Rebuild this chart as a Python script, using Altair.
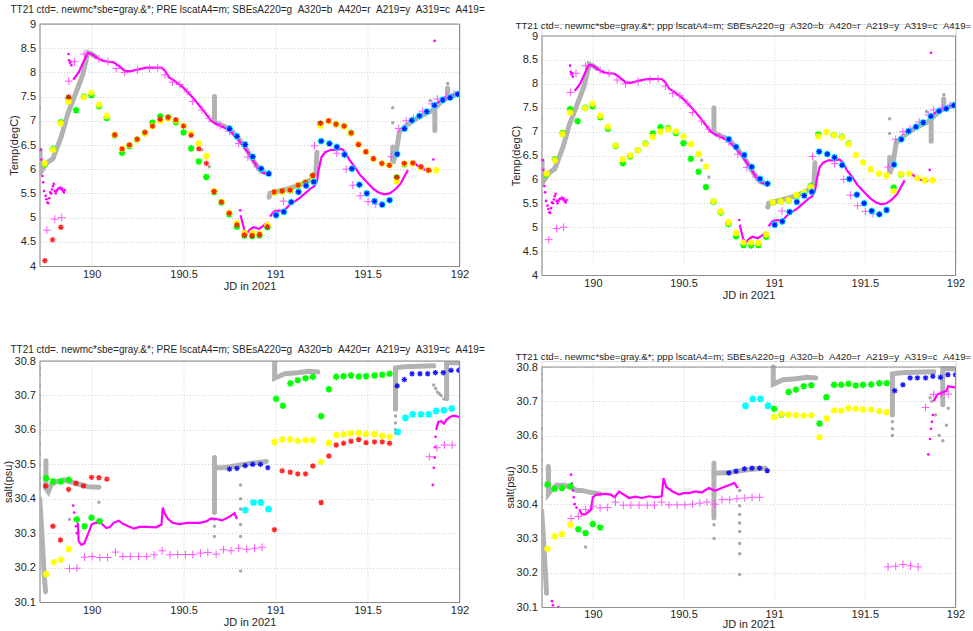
import altair as alt
import pandas as pd

# ---------------- axes / titles ----------------
X_DOMAIN = [189.717, 192]
X_TICKS = [190, 190.5, 191, 191.5, 192]
T_DOMAIN = [4, 9]
T_TICKS = [4, 4.5, 5, 5.5, 6, 6.5, 7, 7.5, 8, 8.5, 9]
S_DOMAIN = [30.1, 30.8]
S_TICKS = [30.1, 30.2, 30.3, 30.4, 30.5, 30.6, 30.7, 30.8]
SP = " \u00a0"
TITLE_PRE = "TT21 ctd=. newmc*sbe=gray.&*; PRE lscatA4=m; SBEsA220=g" + SP + "A320=b" + SP + "A420=r" + SP + "A219=y" + SP + "A319=c" + SP + "A419="
TITLE_PPP = "TT21 ctd=. newmc*sbe=gray.&*; ppp lscatA4=m; SBEsA220=g" + SP + "A320=b" + SP + "A420=r" + SP + "A219=y" + SP + "A319=c" + SP + "A419="
X_LABEL = "JD in 2021"
T_LABEL = "Temp(degC)"
S_LABEL = "salt(psu)"

# ---------------- temperature data (both top panels) ----------------
T_GREEN = [(189.746, 6.10), (189.791, 6.42), (189.833, 6.97), (189.875, 7.47), (189.916, 7.22),
           (189.958, 7.50), (189.999, 7.53), (190.041, 7.30), (190.083, 7.06), (190.126, 6.70),
           (190.166, 6.34), (190.206, 6.48), (190.248, 6.61), (190.29, 6.75), (190.331, 6.96),
           (190.373, 7.09), (190.416, 7.07), (190.458, 6.97), (190.5, 6.76), (190.541, 6.43),
           (190.583, 6.16), (190.624, 5.84), (190.666, 5.53), (190.706, 5.31), (190.748, 5.07),
           (190.79, 4.81), (190.831, 4.63), (190.873, 4.62), (190.913, 4.63), (190.956, 4.80),
           (190.993, 5.52), (191.036, 5.54), (191.079, 5.56), (191.123, 5.66), (191.163, 5.72),
           (191.202, 5.86), (191.244, 6.94), (191.329, 6.93), (191.373, 6.89), (191.411, 6.75),
           (191.659, 5.83), (191.7, 6.10)]
T_YELLOW = [(189.746, 6.12), (189.791, 6.40), (189.833, 6.95), (189.875, 7.40), (189.958, 7.49),
            (189.999, 7.58), (190.041, 7.33), (190.083, 7.10), (190.126, 6.71), (190.166, 6.42),
            (190.206, 6.50), (190.248, 6.61), (190.29, 6.74), (190.331, 6.89), (190.373, 7.00),
            (190.416, 7.05), (190.458, 7.01), (190.5, 6.90), (190.541, 6.74), (190.583, 6.53),
            (190.624, 6.27), (190.666, 5.55), (190.706, 5.33), (190.748, 5.10), (190.79, 4.88),
            (190.831, 4.68), (190.873, 4.68), (190.913, 4.67), (190.956, 4.85), (190.993, 5.52),
            (191.036, 5.54), (191.079, 5.57), (191.123, 5.67), (191.163, 5.73), (191.202, 5.84),
            (191.244, 6.90), (191.288, 6.99), (191.329, 6.93), (191.373, 6.88), (191.411, 6.74),
            (191.451, 6.51), (191.491, 6.36), (191.532, 6.21), (191.578, 6.12), (191.619, 6.08),
            (191.659, 5.75), (191.7, 6.11), (191.746, 6.12), (191.791, 6.03), (191.831, 5.98),
            (191.873, 5.98)]
T_RED = [(189.746, 4.11), (189.788, 4.54), (189.833, 4.80), (189.875, 7.49), (190.126, 6.71),
         (190.166, 6.42), (190.206, 6.50), (190.248, 6.62), (190.29, 6.76), (190.331, 6.89),
         (190.373, 7.03), (190.416, 7.07), (190.458, 7.02), (190.5, 6.89), (190.541, 6.70),
         (190.583, 6.42), (190.624, 6.12), (190.666, 5.54), (190.706, 5.32), (190.748, 5.09),
         (190.79, 4.85), (190.831, 4.64), (190.873, 4.63), (190.913, 4.65), (190.956, 4.81),
         (190.993, 5.53), (191.036, 5.55), (191.079, 5.57), (191.123, 5.67), (191.163, 5.73),
         (191.202, 5.87), (191.244, 6.95), (191.288, 7.00), (191.329, 6.93), (191.373, 6.89),
         (191.411, 6.75), (191.451, 6.51), (191.491, 6.36), (191.532, 6.22), (191.578, 6.12),
         (191.619, 6.08), (191.659, 5.83), (191.7, 6.12), (191.746, 6.13), (191.791, 6.05),
         (191.831, 5.98)]
T_BLUE = [(190.75, 6.84), (190.79, 6.68), (190.835, 6.51), (190.876, 6.26), (190.922, 6.01),
          (190.963, 5.91), (191.003, 5.05), (191.045, 5.12), (191.085, 5.32), (191.125, 5.53),
          (191.166, 5.66), (191.208, 5.74), (191.248, 6.58), (191.293, 6.53), (191.333, 6.46),
          (191.375, 6.30), (191.415, 6.01), (191.456, 5.68), (191.496, 5.50), (191.538, 5.34),
          (191.58, 5.27), (191.62, 5.36), (191.661, 6.31), (191.701, 6.84), (191.741, 7.01),
          (191.782, 7.10), (191.822, 7.19), (191.864, 7.32), (191.909, 7.43), (191.949, 7.48),
          (191.99, 7.55)]
T_MAG_PLUS = [(189.757, 4.74), (189.80, 4.97), (189.838, 5.00), (189.876, 7.82), (189.907, 8.22),
              (189.96, 8.38), (190.04, 8.28), (190.09, 8.22), (190.134, 8.08), (190.18, 8.00),
              (190.25, 8.05), (190.315, 8.08), (190.36, 8.10), (190.4, 7.95), (190.44, 7.80),
              (190.48, 7.75), (190.52, 7.60), (190.55, 7.40), (190.6, 7.22), (190.64, 7.05),
              (190.7, 6.90), (190.75, 6.78), (190.8, 6.53), (190.85, 6.25), (190.9, 6.05),
              (191.0, 5.10), (191.043, 5.34), (191.212, 6.48), (191.333, 6.33), (191.384, 6.00),
              (191.42, 5.67), (191.46, 5.45), (191.503, 5.33), (191.545, 5.28), (191.629, 6.26),
              (191.67, 6.84), (191.71, 7.00), (191.75, 7.05), (191.8, 7.20), (191.85, 7.35),
              (191.88, 7.45), (191.93, 7.50), (191.97, 7.55)]
T_MAG_DOTS = [(189.724, 6.40), (189.727, 6.20), (189.733, 5.86), (189.737, 5.73), (189.742, 5.55),
              (189.75, 5.45), (189.755, 5.38), (189.76, 5.31), (189.765, 5.30), (189.77, 5.40),
              (189.775, 5.52), (189.78, 5.50), (189.785, 5.58), (189.79, 5.65), (189.795, 5.70),
              (189.8, 5.55), (189.805, 5.50), (189.81, 5.55), (189.815, 5.58), (189.82, 5.60),
              (189.83, 5.62), (189.835, 5.58), (189.84, 5.60), (189.845, 5.55), (189.85, 5.52),
              (189.855, 5.57), (189.875, 8.38), (189.878, 8.25), (189.882, 8.20), (189.886, 8.22),
              (189.89, 8.15), (190.808, 5.15), (191.865, 8.65), (191.858, 6.20)]
T_MAG_LINE = [
    [(189.90, 7.85), (189.93, 8.00), (189.96, 8.25), (189.98, 8.40), (190.0, 8.38), (190.03, 8.30),
     (190.06, 8.24), (190.09, 8.22), (190.12, 8.21), (190.15, 8.13), (190.18, 8.03), (190.21, 8.02),
     (190.25, 8.06), (190.30, 8.10), (190.35, 8.10), (190.38, 8.10), (190.40, 8.03), (190.42, 7.90),
     (190.45, 7.83), (190.50, 7.68), (190.55, 7.48), (190.60, 7.25), (190.65, 7.00), (190.67, 6.95),
     (190.70, 6.90), (190.75, 6.80), (190.80, 6.60), (190.85, 6.35), (190.90, 6.05), (190.93, 5.93),
     (190.96, 5.90)],
    [(190.81, 5.05), (190.83, 4.75), (190.845, 4.68), (190.86, 4.75), (190.88, 4.80), (190.91, 4.77),
     (190.93, 4.82), (190.95, 4.88), (190.96, 4.88)],
    [(190.97, 5.02), (190.99, 5.12), (191.02, 5.15), (191.04, 5.12), (191.06, 5.20), (191.08, 5.28),
     (191.10, 5.32), (191.13, 5.40), (191.16, 5.50), (191.19, 5.60), (191.21, 5.65), (191.225, 5.75),
     (191.235, 6.00), (191.25, 6.25), (191.27, 6.35), (191.30, 6.40), (191.33, 6.40), (191.36, 6.42),
     (191.38, 6.35), (191.40, 6.20), (191.43, 6.05), (191.46, 5.88), (191.50, 5.72), (191.53, 5.60),
     (191.56, 5.52), (191.59, 5.48), (191.62, 5.50), (191.65, 5.58), (191.68, 5.70), (191.70, 5.85),
     (191.72, 5.98)],
    [(191.74, 6.10), (191.755, 6.13), (191.77, 6.08), (191.80, 6.00), (191.83, 5.97), (191.85, 5.97)],
    [(191.87, 7.35), (191.90, 7.42), (191.93, 7.47), (191.96, 7.52), (192.0, 7.57)],
]
T_CTD_LINE = [
    [(189.72, 6.40), (189.72, 5.92)],
    [(189.726, 5.95), (189.753, 6.12), (189.79, 6.22), (189.835, 6.67), (189.871, 7.15),
     (189.907, 7.50), (189.952, 7.95), (189.98, 8.41), (190.0, 8.38), (190.02, 8.33)],
    [(190.668, 7.50), (190.668, 7.00)],
    [(190.68, 6.95), (190.75, 6.84), (190.79, 6.67), (190.835, 6.46), (190.876, 6.19),
     (190.92, 5.96), (190.96, 5.90)],
    [(190.965, 5.42), (190.97, 5.50), (191.0, 5.53), (191.07, 5.60), (191.13, 5.67),
     (191.2, 5.80), (191.22, 5.95), (191.225, 6.35)],
    [(191.637, 6.46), (191.637, 6.12), (191.655, 6.33), (191.673, 6.77), (191.71, 6.90),
     (191.78, 7.08), (191.855, 7.22), (191.91, 7.43), (192.0, 7.57)],
    [(191.866, 7.22), (191.866, 6.80)],
    [(191.935, 7.68), (191.935, 7.50)],
]
T_CTD_DOTS = [(189.717, 7.27), (191.637, 7.27), (191.637, 6.96), (191.936, 7.77), (191.84, 7.42),
              (190.6, 6.40), (190.64, 6.05)]

# ---------------- salinity, PRE (bottom-left) ----------------
S3_GREEN = [(189.753, 30.46), (189.79, 30.45), (189.833, 30.45), (189.876, 30.455), (189.92, 30.34),
            (189.962, 30.32), (190.0, 30.345), (190.043, 30.335), (191.003, 30.69), (191.04, 30.67),
            (191.081, 30.735), (191.121, 30.744), (191.163, 30.75), (191.203, 30.754), (191.248, 30.64),
            (191.29, 30.718), (191.33, 30.754), (191.37, 30.756), (191.41, 30.758), (191.452, 30.755),
            (191.492, 30.756), (191.538, 30.758), (191.58, 30.76), (191.62, 30.763)]
S3_RED = [(189.75, 30.437), (189.79, 30.32), (189.831, 30.28), (189.875, 30.427), (189.916, 30.445),
          (189.956, 30.437), (190.0, 30.462), (190.04, 30.461), (190.083, 30.457), (190.994, 30.31),
          (191.036, 30.481), (191.08, 30.477), (191.121, 30.472), (191.163, 30.472), (191.203, 30.495),
          (191.248, 30.389), (191.29, 30.524), (191.33, 30.556), (191.37, 30.561), (191.41, 30.567),
          (191.452, 30.572), (191.492, 30.563), (191.538, 30.565), (191.58, 30.565), (191.62, 30.561)]
S3_YELLOW = [(189.753, 30.181), (189.795, 30.216), (189.835, 30.223), (189.876, 30.254), (190.994, 30.565),
             (191.036, 30.572), (191.08, 30.572), (191.121, 30.568), (191.163, 30.57), (191.203, 30.57),
             (191.248, 30.507), (191.29, 30.562), (191.33, 30.585), (191.37, 30.587), (191.41, 30.59),
             (191.452, 30.591), (191.492, 30.588), (191.538, 30.588), (191.58, 30.583), (191.62, 30.58)]
S3_BLUE = [(190.75, 30.486), (190.79, 30.488), (190.835, 30.496), (190.876, 30.50), (190.918, 30.50),
           (190.958, 30.49), (191.661, 30.728), (191.70, 30.746), (191.742, 30.763), (191.785, 30.763),
           (191.827, 30.763), (191.869, 30.766), (191.912, 30.766), (191.954, 30.773), (191.996, 30.773)]
S3_CYAN = [(190.835, 30.367), (190.88, 30.389), (190.92, 30.389), (190.962, 30.37), (191.665, 30.594),
           (191.706, 30.635), (191.746, 30.645), (191.791, 30.645), (191.833, 30.645), (191.873, 30.655),
           (191.915, 30.657), (191.958, 30.662)]
S3_MAG_PLUS = [(189.88, 30.197), (189.92, 30.198), (189.962, 30.23), (190.003, 30.232), (190.045, 30.229),
               (190.087, 30.229), (190.13, 30.245), (190.17, 30.232), (190.21, 30.232), (190.255, 30.232),
               (190.30, 30.232), (190.34, 30.237), (190.384, 30.249), (190.427, 30.237), (190.468, 30.238),
               (190.51, 30.238), (190.55, 30.238), (190.592, 30.242), (190.632, 30.244), (190.677, 30.239),
               (190.717, 30.252), (190.758, 30.249), (190.80, 30.256), (190.843, 30.253), (190.886, 30.256),
               (190.927, 30.259), (191.836, 30.522), (191.877, 30.548), (191.918, 30.556), (191.96, 30.556)]
S3_MAG_DOTS = [(189.90, 30.38), (189.905, 30.36), (189.91, 30.34), (189.915, 30.32), (189.92, 30.30),
               (191.855, 30.44), (191.86, 30.49), (191.865, 30.52), (191.868, 30.55), (191.87, 30.58)]
S3_MAG_LINE = [
    [(189.925, 30.33), (189.93, 30.276), (189.945, 30.266), (189.96, 30.27), (189.975, 30.29),
     (189.99, 30.31), (190.0, 30.325), (190.02, 30.33), (190.05, 30.33), (190.08, 30.315),
     (190.10, 30.318), (190.12, 30.33), (190.148, 30.336), (190.17, 30.327), (190.20, 30.32),
     (190.23, 30.313), (190.26, 30.318), (190.30, 30.318), (190.35, 30.317), (190.38, 30.325),
     (190.387, 30.374), (190.395, 30.36), (190.413, 30.343), (190.44, 30.33), (190.478, 30.326),
     (190.52, 30.33), (190.55, 30.33), (190.59, 30.33), (190.623, 30.334), (190.65, 30.343),
     (190.677, 30.341), (190.71, 30.337), (190.75, 30.348), (190.777, 30.358), (190.79, 30.341)],
    [(191.873, 30.60), (191.885, 30.623), (191.90, 30.625), (191.915, 30.618), (191.93, 30.63),
     (191.95, 30.638), (191.97, 30.641), (192.0, 30.637)],
]
S3_CTD_LINE = [
    [(189.718, 30.40), (189.73, 30.30), (189.742, 30.18), (189.75, 30.13)],
    [(189.752, 30.51), (189.752, 30.43), (189.765, 30.42), (189.78, 30.44), (189.81, 30.45),
     (189.85, 30.455), (189.88, 30.45), (189.91, 30.445), (189.95, 30.44), (189.98, 30.435),
     (190.04, 30.433)],
    [(190.668, 30.52), (190.668, 30.36)],
    [(190.668, 30.49), (190.72, 30.49), (190.80, 30.497), (190.86, 30.502), (190.95, 30.508)],
    [(190.995, 30.80), (190.995, 30.75), (191.05, 30.763), (191.12, 30.766), (191.18, 30.77),
     (191.23, 30.768)],
    [(191.652, 30.66), (191.652, 30.78), (191.70, 30.783), (191.78, 30.785), (191.86, 30.786)],
    [(191.93, 30.69), (191.93, 30.795), (192.0, 30.795)],
]
S3_CTD_DOTS = [(189.717, 30.78), (189.717, 30.76), (189.717, 30.73), (189.717, 30.70), (189.717, 30.68),
               (189.717, 30.66), (189.717, 30.62), (189.717, 30.59), (189.717, 30.56), (189.717, 30.53),
               (189.717, 30.50), (189.717, 30.46), (189.717, 30.44), (190.668, 30.34), (190.668, 30.32),
               (190.668, 30.29), (190.81, 30.44), (190.81, 30.40), (190.81, 30.37), (190.81, 30.325),
               (190.81, 30.29), (190.81, 30.19), (190.04, 30.39), (189.88, 30.34), (191.652, 30.64),
               (191.652, 30.62), (191.652, 30.60), (191.652, 30.59), (191.86, 30.73), (191.87, 30.72),
               (191.88, 30.71), (191.89, 30.705), (191.90, 30.70), (191.915, 30.69)]

# ---------------- salinity, ppp (bottom-right) ----------------
S4_GREEN = [(189.75, 30.457), (189.79, 30.445), (189.83, 30.447), (189.876, 30.452), (189.92, 30.327),
            (189.96, 30.316), (190.0, 30.342), (190.04, 30.332), (191.0, 30.678), (191.04, 30.661),
            (191.08, 30.727), (191.12, 30.734), (191.163, 30.744), (191.205, 30.747), (191.25, 30.635),
            (191.288, 30.712), (191.33, 30.748), (191.37, 30.748), (191.41, 30.751), (191.45, 30.746),
            (191.49, 30.748), (191.535, 30.749), (191.58, 30.753), (191.62, 30.753)]
S4_YELLOW = [(189.75, 30.27), (189.79, 30.306), (189.83, 30.313), (189.876, 30.34), (191.0, 30.654),
             (191.04, 30.663), (191.08, 30.661), (191.12, 30.659), (191.163, 30.658), (191.205, 30.659),
             (191.25, 30.595), (191.29, 30.65), (191.33, 30.673), (191.37, 30.673), (191.41, 30.68),
             (191.45, 30.678), (191.49, 30.676), (191.535, 30.676), (191.58, 30.671), (191.62, 30.668)]
S4_BLUE = [(190.75, 30.491), (190.79, 30.496), (190.836, 30.503), (190.878, 30.505), (190.92, 30.505),
           (190.962, 30.498), (191.665, 30.731), (191.71, 30.748), (191.75, 30.768), (191.79, 30.768),
           (191.835, 30.768), (191.875, 30.773), (191.917, 30.770), (191.958, 30.778), (192.0, 30.778)]
S4_CYAN = [(190.842, 30.687), (190.882, 30.707), (190.924, 30.707), (190.966, 30.687)]
S4_MAG_PLUS = [(189.88, 30.358), (189.92, 30.364), (189.96, 30.384), (190.0, 30.394), (190.04, 30.389),
               (190.08, 30.39), (190.125, 30.406), (190.168, 30.397), (190.21, 30.397), (190.255, 30.397),
               (190.30, 30.397), (190.34, 30.397), (190.38, 30.406), (190.42, 30.398), (190.465, 30.398),
               (190.508, 30.398), (190.55, 30.40), (190.59, 30.403), (190.63, 30.406), (190.672, 30.40),
               (190.713, 30.413), (190.755, 30.413), (190.795, 30.416), (190.838, 30.418), (190.878, 30.42),
               (190.92, 30.42), (191.628, 30.217), (191.67, 30.219), (191.71, 30.224), (191.752, 30.22),
               (191.794, 30.217), (191.835, 30.682), (191.88, 30.72), (191.92, 30.72), (191.96, 30.721)]
S4_MAG_DOTS = [(189.88, 30.486), (189.885, 30.46), (189.89, 30.44), (189.895, 30.42), (189.90, 30.40),
               (189.91, 30.39), (189.775, 30.117), (189.78, 30.105), (189.81, 30.10), (191.85, 30.545),
               (191.86, 30.59), (191.865, 30.62), (191.87, 30.64), (191.875, 30.66)]
S4_MAG_LINE = [
    [(189.925, 30.385), (189.94, 30.37), (189.96, 30.37), (189.99, 30.384), (190.0, 30.42),
     (190.02, 30.428), (190.07, 30.43), (190.10, 30.428), (190.12, 30.42), (190.145, 30.437),
     (190.17, 30.428), (190.20, 30.418), (190.235, 30.422), (190.27, 30.418), (190.31, 30.423),
     (190.345, 30.42), (190.38, 30.423), (190.39, 30.476), (190.405, 30.45), (190.44, 30.437),
     (190.475, 30.428), (190.50, 30.432), (190.53, 30.432), (190.565, 30.437), (190.60, 30.434),
     (190.64, 30.447), (190.675, 30.439), (190.71, 30.447), (190.75, 30.455), (190.78, 30.462),
     (190.80, 30.447)],
    [(191.88, 30.70), (191.89, 30.71), (191.90, 30.72), (191.935, 30.727), (191.95, 30.73),
     (191.96, 30.744), (192.0, 30.74)],
]
S4_CTD_LINE = [
    [(189.718, 30.38), (189.73, 30.28), (189.745, 30.14)],
    [(189.755, 30.51), (189.755, 30.43), (189.77, 30.44), (189.80, 30.455), (189.84, 30.455),
     (189.88, 30.45), (189.91, 30.44), (189.94, 30.44), (189.98, 30.435), (190.04, 30.43)],
    [(190.668, 30.52), (190.668, 30.36)],
    [(190.668, 30.49), (190.75, 30.492), (190.85, 30.50), (190.95, 30.505)],
    [(190.995, 30.80), (190.995, 30.75), (191.05, 30.763), (191.12, 30.766), (191.18, 30.77),
     (191.23, 30.768)],
    [(191.652, 30.66), (191.652, 30.78), (191.70, 30.783), (191.78, 30.785), (191.88, 30.786)],
    [(191.93, 30.69), (191.93, 30.795), (192.0, 30.795)],
]
S4_CTD_DOTS = [(189.717, 30.78), (189.717, 30.76), (189.717, 30.73), (189.717, 30.70), (189.717, 30.68),
               (189.717, 30.66), (189.717, 30.62), (189.717, 30.59), (189.717, 30.56), (189.717, 30.53),
               (189.717, 30.50), (189.717, 30.46), (189.717, 30.42), (190.668, 30.34), (190.668, 30.30),
               (190.81, 30.44), (190.81, 30.395), (190.81, 30.37), (190.81, 30.345), (190.81, 30.32),
               (190.81, 30.285), (190.81, 30.255), (190.81, 30.195), (189.96, 30.275), (191.652, 30.64),
               (191.652, 30.62), (191.652, 30.60), (191.86, 30.71), (191.87, 30.70), (191.89, 30.66),
               (191.91, 30.60), (191.93, 30.585), (191.95, 30.63), (191.96, 30.68)]

# ---------------- drawing ----------------
ASTERISK = "M-1,0L1,0M0,-1L0,1M-0.72,-0.72L0.72,0.72M-0.72,0.72L0.72,-0.72"
PLUS = "M-1,0L1,0M0,-1L0,1"
FONT = "Liberation Sans"
TXT = "#262626"


def pts(lst):
    return pd.DataFrame(lst, columns=["x", "y"])


def segs(lst):
    rows = []
    for i, s in enumerate(lst):
        for x, y in s:
            rows.append({"x": x, "y": y, "seg": i})
    return pd.DataFrame(rows)


def panel(title, tsize, title_dx, title_dy, title_off, ylabel, ydom, yticks, w, h, top, d, xtitle_y=None):
    xkw = dict(values=X_TICKS, format=".4~g", title=X_LABEL, grid=True, gridDash=[1, 2],
               gridColor="#c4c4c4", gridWidth=0.8, ticks=False, domainColor="#8c8c8c",
               labelFont=FONT, labelFontSize=11, labelColor=TXT, labelPadding=2,
               titleFont=FONT, titleFontSize=11, titleFontWeight="normal", titleColor=TXT,
               titlePadding=1, labelFlush=False)
    if xtitle_y is not None:
        xkw.update(titleY=xtitle_y, titleBaseline="alphabetic", labelPadding=1)
    xax = alt.Axis(**xkw)
    yax = alt.Axis(values=yticks, format=".4~g", title=ylabel, grid=True, gridDash=[1, 2],
                   gridColor="#c4c4c4", gridWidth=0.8, ticks=False, domainColor="#8c8c8c",
                   labelFont=FONT, labelFontSize=11, labelColor=TXT, labelPadding=4,
                   titleFont=FONT, titleFontSize=11, titleFontWeight="normal", titleColor=TXT,
                   titlePadding=1, labelFlush=False)
    xe = alt.X("x:Q", scale=alt.Scale(domain=X_DOMAIN, nice=False, zero=False), axis=xax)
    ye = alt.Y("y:Q", scale=alt.Scale(domain=ydom, nice=False, zero=False, range=[h, top]), axis=yax)

    layers = []
    layers.append(alt.Chart(segs(d["ctd_line"])).mark_line(
        color="#b2b2b2", strokeWidth=5, strokeCap="round", clip=True).encode(x=xe, y=ye, detail="seg:N"))
    layers.append(alt.Chart(pts(d["ctd_dots"])).mark_circle(
        color="#a8a8a8", size=12, opacity=1, clip=True).encode(x=xe, y=ye))
    layers.append(alt.Chart(segs(d["mag_line"])).mark_line(
        color="#ff00ff", strokeWidth=2.2, clip=True).encode(x=xe, y=ye, detail="seg:N"))
    layers.append(alt.Chart(pts(d["mag_dots"])).mark_circle(
        color="#ff00ff", size=7, opacity=1, clip=True).encode(x=xe, y=ye))
    layers.append(alt.Chart(pts(d["mag_plus"])).mark_point(
        shape=PLUS, filled=False, color="#ff44ff", size=60, strokeWidth=1, opacity=0.9,
        clip=True).encode(x=xe, y=ye))
    styles = [("green", "#00ff00", 44, 1.7, 1), ("yellow", "#ffff00", 44, 1.7, 1),
              ("red", "#ff0000", 30, 1.3, 0.85), ("cyan", "#00ffff", 48, 1.9, 1),
              ("blue", "#0000ff", 30, 1.2, 0.9)]
    for key, col, sz, sw, op in styles:
        if d.get(key):
            layers.append(alt.Chart(pts(d[key])).mark_point(
                shape=ASTERISK, filled=False, color=col, size=sz, strokeWidth=sw,
                opacity=op, clip=True).encode(x=xe, y=ye))
    box_top = pd.DataFrame({"x": [X_DOMAIN[0]], "x2": [X_DOMAIN[1]], "y": [ydom[1]]})
    box_right = pd.DataFrame({"x": [X_DOMAIN[1]], "y": [ydom[0]], "y2": [ydom[1]]})
    layers.append(alt.Chart(box_top).mark_rule(color="#8c8c8c", strokeWidth=1).encode(
        x=xe, x2="x2:Q", y=ye))
    layers.append(alt.Chart(box_right).mark_rule(color="#8c8c8c", strokeWidth=1).encode(
        x=xe, y=ye, y2="y2:Q"))

    return alt.layer(*layers).properties(
        width=w, height=h,
        title=alt.TitleParams(text=title, anchor="start", frame="group", dx=title_dx, dy=title_dy,
                              offset=title_off, font=FONT, fontSize=tsize, fontWeight="normal",
                              color=TXT))


temp_common = dict(ctd_line=T_CTD_LINE, ctd_dots=T_CTD_DOTS, mag_line=T_MAG_LINE,
                   mag_dots=T_MAG_DOTS, mag_plus=T_MAG_PLUS, green=T_GREEN, yellow=T_YELLOW,
                   cyan=T_BLUE, blue=T_BLUE)
d1 = dict(temp_common, red=T_RED)
d2 = dict(temp_common)
d3 = dict(ctd_line=S3_CTD_LINE, ctd_dots=S3_CTD_DOTS, mag_line=S3_MAG_LINE, mag_dots=S3_MAG_DOTS,
          mag_plus=S3_MAG_PLUS, green=S3_GREEN, yellow=S3_YELLOW, red=S3_RED, cyan=S3_CYAN,
          blue=S3_BLUE)
d4 = dict(ctd_line=S4_CTD_LINE, ctd_dots=S4_CTD_DOTS, mag_line=S4_MAG_LINE, mag_dots=S4_MAG_DOTS,
          mag_plus=S4_MAG_PLUS, green=S4_GREEN, yellow=S4_YELLOW, cyan=S4_CYAN, blue=S4_BLUE)

p1 = panel(TITLE_PRE, 10.0, -29, 0, 3.5, T_LABEL, T_DOMAIN, T_TICKS, 420, 242, 0, d1)
p2 = panel(TITLE_PPP, 9.7, -26, 5, -2, T_LABEL, T_DOMAIN, T_TICKS, 414, 251, 12, d2)
p3 = panel(TITLE_PRE, 10.0, -29, -2, -2, S_LABEL, S_DOMAIN, S_TICKS, 420, 241, 0, d3)
p4 = panel(TITLE_PPP, 9.7, -26, -1, -2, S_LABEL, S_DOMAIN, S_TICKS, 414, 246, 6, d4, xtitle_y=20)

chart = alt.concat(p1, p2, p3, p4, columns=2, spacing={"row": 86, "column": 82},
                   bounds="flush").properties(
    padding={"left": 1.5, "top": 4, "right": 0, "bottom": 0},
    background="white",
).configure_view(stroke="transparent").configure(font=FONT)

chart.save("out.html", embed_options={"renderer": "svg", "actions": False})
